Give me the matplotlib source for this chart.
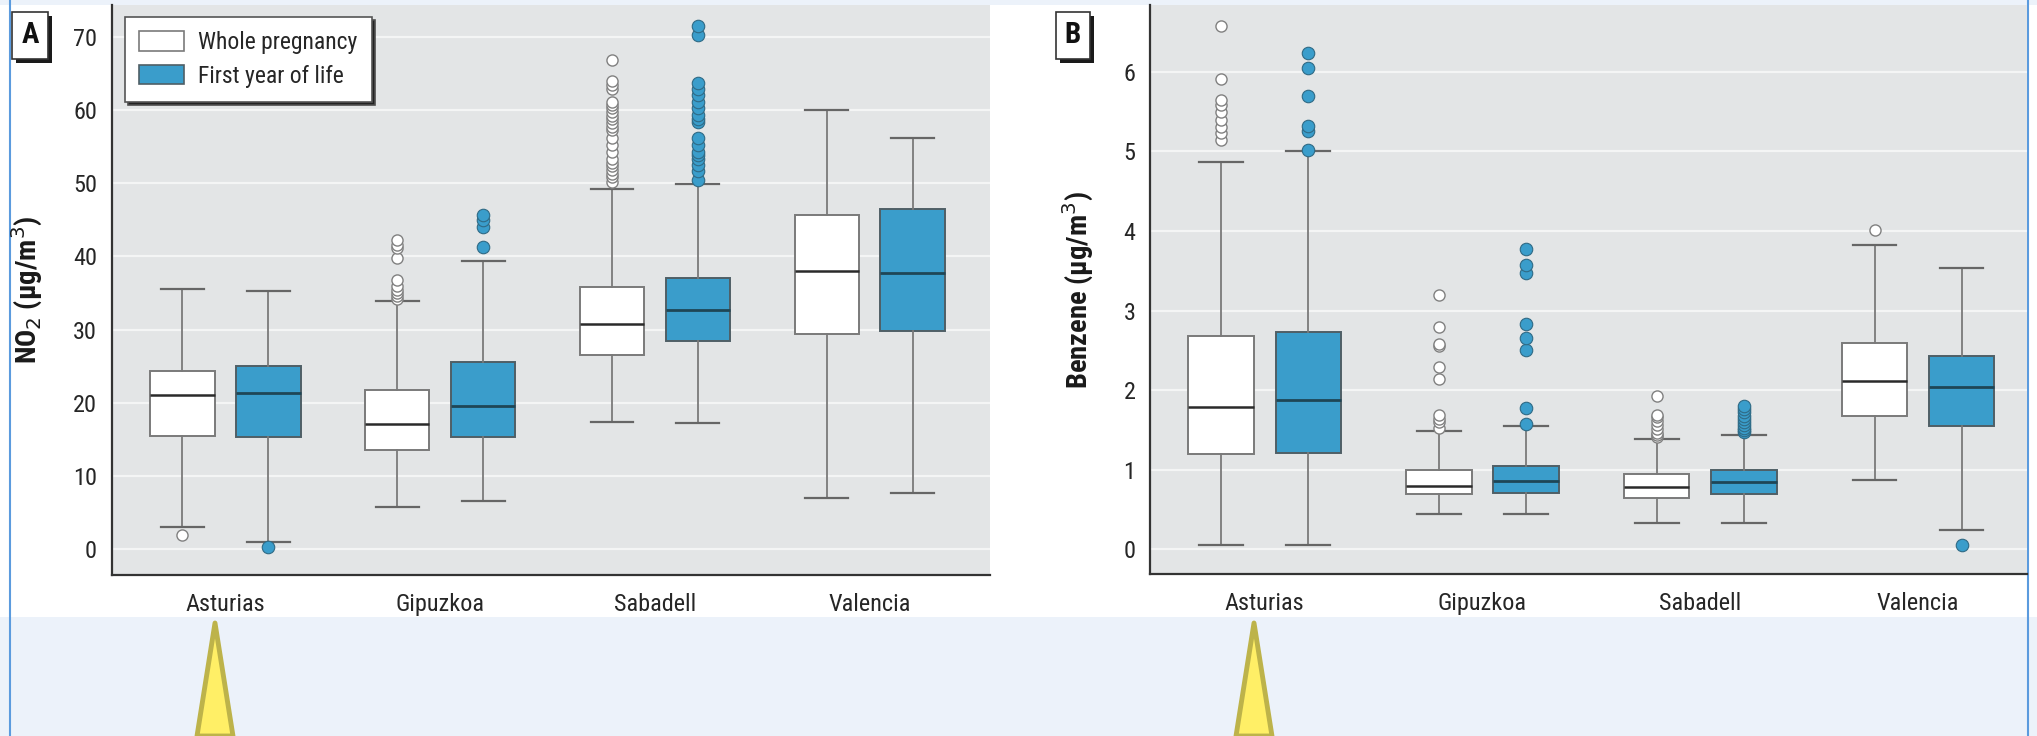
import numpy as np
import matplotlib.pyplot as plt
from matplotlib import font_manager
from matplotlib.patches import Polygon, Rectangle

# the original uses a condensed face; take the first narrow family that is installed
installed = {(f.name, f.stretch) for f in font_manager.fontManager.ttflist}
names = {n for n, s in installed}
narrow = None
for cand in ['Liberation Sans Narrow', 'Roboto Condensed', 'Open Sans Condensed',
             'Noto Sans Condensed', 'DejaVu Sans Condensed']:
    if cand in names:
        narrow = cand
        break
if narrow is None:
    narrow = 'DejaVu Sans'
    if any(s in ('condensed', 'semi-condensed', 500, 'semicondensed') for n, s in installed
           if n == 'DejaVu Sans'):
        plt.rcParams['font.stretch'] = 'condensed'
plt.rcParams['font.family'] = [narrow, 'DejaVu Sans']

cities = ["Asturias", "Gipuzkoa", "Sabadell", "Valencia"]
series = ["Whole pregnancy", "First year of life"]

# (lower whisker, q1, median, q3, upper whisker) per city
no2_preg = [(3.1, 15.5, 21.1, 24.3, 35.5), (5.8, 13.5, 17.1, 21.7, 33.9),
            (17.4, 26.5, 30.8, 35.8, 49.2), (7.0, 29.4, 38.0, 45.7, 59.9)]
no2_preg_fliers = [[2.0],
                   [34.2, 34.6, 35.0, 35.4, 36.0, 36.7, 39.7, 41.1, 41.6, 42.2],
                   [50.2, 50.8, 51.3, 51.8, 52.3, 52.7, 53.3, 54.2, 55.2, 56.1, 57.2, 57.7,
                    58.2, 58.7, 59.2, 59.7, 60.2, 60.6, 61.0, 62.9, 63.4, 63.9, 66.8],
                   []]
no2_first = [(1.0, 15.4, 21.4, 25.0, 35.3), (6.6, 15.4, 19.5, 25.6, 39.4),
             (17.3, 28.4, 32.6, 37.1, 49.9), (7.7, 29.8, 37.7, 46.5, 56.1)]
no2_first_fliers = [[0.35],
                    [41.2, 44.0, 44.9, 45.6],
                    [50.4, 51.6, 52.4, 53.3, 53.8, 54.2, 55.2, 56.1, 58.3, 58.8, 59.3, 60.2,
                     61.1, 62.0, 62.9, 63.7, 70.2, 71.5],
                    []]

benz_preg = [(0.05, 1.20, 1.79, 2.68, 4.87), (0.44, 0.69, 0.80, 1.00, 1.49),
             (0.33, 0.65, 0.78, 0.95, 1.39), (0.87, 1.68, 2.12, 2.59, 3.83)]
benz_preg_fliers = [[5.14, 5.23, 5.31, 5.39, 5.50, 5.58, 5.64, 5.91, 6.57],
                    [1.52, 1.60, 1.64, 1.69, 2.14, 2.29, 2.55, 2.58, 2.79, 3.19],
                    [1.41, 1.44, 1.46, 1.51, 1.56, 1.61, 1.66, 1.69, 1.93],
                    [4.01]]
benz_first = [(0.05, 1.21, 1.88, 2.73, 5.00), (0.44, 0.71, 0.86, 1.05, 1.55),
              (0.33, 0.69, 0.84, 1.00, 1.44), (0.24, 1.55, 2.04, 2.43, 3.54)]
benz_first_fliers = [[5.02, 5.26, 5.32, 5.70, 6.05, 6.24],
                     [1.57, 1.77, 2.50, 2.66, 2.83, 3.47, 3.57, 3.77],
                     [1.47, 1.50, 1.53, 1.56, 1.60, 1.64, 1.68, 1.72, 1.76, 1.80],
                     [0.06]]

no2_ticks = [0, 10, 20, 30, 40, 50, 60, 70]
benz_ticks = [0, 1, 2, 3, 4, 5, 6]

BG = '#E3E5E6'
BLUE = '#3A9DCB'
EDGE_BG = '#ECF2FA'
TXT = '#262626'


def to_stats(stats, fliers):
    out = []
    for s, f in zip(stats, fliers):
        out.append(dict(whislo=s[0], q1=s[1], med=s[2], q3=s[3], whishi=s[4], fliers=f))
    return out


def draw_panel(ax, preg, preg_fl, first, first_fl, ticks, ylim, xlim, ylabel):
    pos = np.arange(1, len(cities) + 1)
    ax.set_facecolor(BG)
    for y in ticks:
        ax.axhline(y, color='#F4F5F5', lw=1.6, zorder=0.5)
    # whole pregnancy: white boxes
    ax.bxp(to_stats(preg, preg_fl), positions=pos - 0.2, widths=0.3, capwidths=0.2,
           patch_artist=True, manage_ticks=False,
           boxprops=dict(facecolor='white', edgecolor='#7A7A7A', lw=1.4),
           medianprops=dict(color='#2A2A2A', lw=1.8),
           whiskerprops=dict(color='#7A7A7A', lw=1.3),
           capprops=dict(color='#666666', lw=1.6),
           flierprops=dict(marker='o', markersize=8, markerfacecolor='white',
                           markeredgecolor='#808080', markeredgewidth=1.0))
    # first year of life: blue boxes
    ax.bxp(to_stats(first, first_fl), positions=pos + 0.2, widths=0.3, capwidths=0.2,
           patch_artist=True, manage_ticks=False,
           boxprops=dict(facecolor=BLUE, edgecolor='#4F5F66', lw=1.4),
           medianprops=dict(color='#1E4656', lw=2.0),
           whiskerprops=dict(color='#7A7A7A', lw=1.3),
           capprops=dict(color='#666666', lw=1.6),
           flierprops=dict(marker='o', markersize=9, markerfacecolor=BLUE,
                           markeredgecolor='#2F6A85', markeredgewidth=0.8))
    ax.set_xticks(pos, cities, fontsize=17.5, color=TXT)
    ax.set_yticks(ticks, [str(t) for t in ticks], fontsize=17.5, color=TXT)
    ax.tick_params(axis='both', length=0)
    ax.tick_params(axis='y', pad=10.5)
    ax.tick_params(axis='x', pad=13)
    ax.set_xlim(*xlim)
    ax.set_ylim(*ylim)
    for side in ['top', 'right']:
        ax.spines[side].set_visible(False)
    for side in ['left', 'bottom']:
        ax.spines[side].set_color('#333333')
        ax.spines[side].set_linewidth(1.6)
    ax.set_ylabel(ylabel, fontsize=20.5, fontweight='bold', color='#1A1A1A', labelpad=20)


fig = plt.figure(figsize=(20.37, 7.36), dpi=100)
fig.patch.set_facecolor('white')

# screenshot surroundings
fig.patches.append(Rectangle((0, 0), 1, 119 / 736, transform=fig.transFigure,
                             facecolor=EDGE_BG, edgecolor='none', zorder=-5))
fig.patches.append(Rectangle((0, 731 / 736), 1, 5 / 736, transform=fig.transFigure,
                             facecolor=EDGE_BG, edgecolor='none', zorder=-5))
for xe in [10 / 2037, 2028 / 2037]:
    fig.add_artist(plt.Line2D([xe, xe], [0, 1], transform=fig.transFigure,
                              color='#5B9BDE', lw=1.5, zorder=-3))
for xa in [215 / 2037, 1254 / 2037]:
    fig.patches.append(Polygon([(xa, 113 / 736), (xa - 18 / 2037, 0), (xa + 18 / 2037, 0)],
                               closed=True, transform=fig.transFigure,
                               facecolor='#FFEF66', edgecolor='#BDB34A', lw=3.5,
                               joinstyle='round', zorder=-4))

axA = fig.add_axes([0.0548, 0.2183, 0.4312, 0.7749])
axB = fig.add_axes([0.5646, 0.2197, 0.4305, 0.7735])

draw_panel(axA, no2_preg, no2_preg_fliers, no2_first, no2_first_fliers,
           no2_ticks, (-3.55, 74.3), (0.47, 4.56), 'NO$_2$ (µg/m$^3$)')
draw_panel(axB, benz_preg, benz_preg_fliers, benz_first, benz_first_fliers,
           benz_ticks, (-0.314, 6.84), (0.474, 4.5), 'Benzene (µg/m$^3$)')

# legend in panel A
handles = [Rectangle((0, 0), 1, 1, facecolor='white', edgecolor='#7A7A7A', lw=1.2),
           Rectangle((0, 0), 1, 1, facecolor=BLUE, edgecolor='#4F5F66', lw=1.2)]
leg = axA.legend(handles, series, loc='upper left', bbox_to_anchor=(0.0153, 0.979),
                 borderaxespad=0, fontsize=17, frameon=True, fancybox=False,
                 handlelength=1.9, handleheight=0.9, handletextpad=0.6,
                 labelspacing=0.45, borderpad=0.6,
                 shadow={'facecolor': '#222222', 'alpha': 1})
for t in leg.get_texts():
    t.set_color(TXT)
leg.get_frame().set_edgecolor('#555555')
leg.get_frame().set_linewidth(1.2)
leg.get_frame().set_alpha(1)

# panel letters in boxes with a drop shadow
letters = []
for xl, letter in [(30 / 2037, 'A'), (1073 / 2037, 'B')]:
    letters.append(fig.text(xl, 0.952, letter, fontsize=21, fontweight='bold',
                            ha='center', va='center', color='#111111', zorder=3,
                            bbox=dict(boxstyle='square,pad=0.32', facecolor='white',
                                      edgecolor='#333333', lw=1.2)))
fig.canvas.draw()
renderer = fig.canvas.get_renderer()
for t in letters:
    bb = t.get_bbox_patch().get_window_extent(renderer)
    fig.patches.append(Rectangle((bb.x0 + 4, bb.y0 - 4), bb.width, bb.height,
                                 transform=None, facecolor='#1A1A1A', edgecolor='none',
                                 zorder=2))

fig.savefig('out.png', dpi=100)
